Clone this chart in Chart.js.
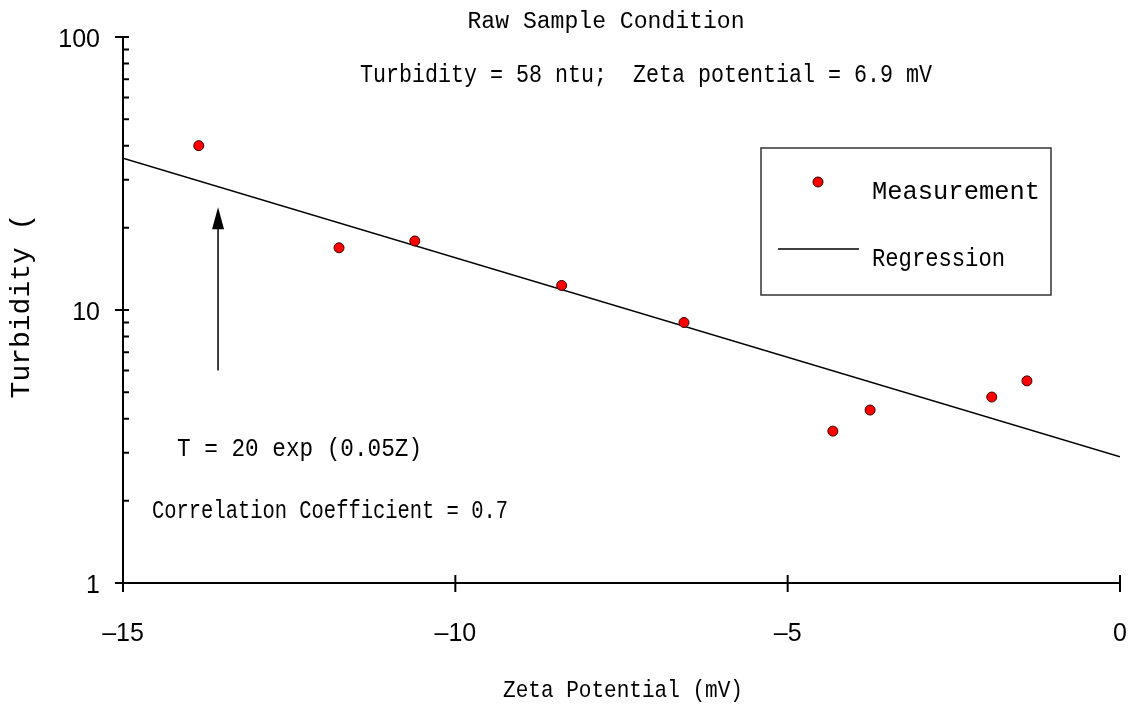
<!DOCTYPE html>
<html>
<head>
<meta charset="utf-8">
<script src="https://cdn.jsdelivr.net/npm/chart.js@4.4.1/dist/chart.umd.min.js"></script>
<style>
  html, body { margin: 0; padding: 0; background: #fff; overflow: hidden; }
  #wrap { position: relative; width: 1133px; height: 704px; }
  #wrap canvas { display: block; }
</style>
</head>
<body>
<div id="wrap"><canvas id="myChart"></canvas></div>
<script>
// measured points (zeta potential mV, turbidity ntu)
const zeta = [-13.86, -11.75, -10.61, -8.40, -6.56, -4.32, -3.76, -1.93, -1.40];
const turbidity = [40, 16.9, 17.9, 12.3, 9.0, 3.6, 4.3, 4.8, 5.5];

// regression line end points
const regZeta = [-15, 0];
const regTurbidity = [36, 2.9];

// axis ticks
const xTicks = [-15, -10, -5, 0];
const yTicks = [1, 10, 100];

// arrow annotation (data coords)
const arrowZeta = -13.57;
const arrowFrom = 6.0;
const arrowTo = 23.8;

const monoFont = '"Liberation Mono", "DejaVu Sans Mono", monospace';

// draw text stretched/squeezed to a given width
function fitText(ctx, text, x, y, w, align) {
    const m = ctx.measureText(text).width;
    const sx = w / m;
    ctx.save();
    let left = x;
    if (align === 'center') left = x - w / 2;
    ctx.translate(left, y);
    ctx.scale(sx, 1);
    ctx.textAlign = 'left';
    ctx.textBaseline = 'middle';
    ctx.fillText(text, 0, 0);
    ctx.restore();
}

const decorPlugin = {
    id: 'decor',
    afterDatasetsDraw(chart) {
        const ctx = chart.ctx;
        const xs = chart.scales.x;
        const ys = chart.scales.y;
        const area = chart.chartArea;

        ctx.save();
        ctx.strokeStyle = '#000';
        ctx.fillStyle = '#000';
        ctx.lineWidth = 2;

        // axis lines
        ctx.beginPath();
        ctx.moveTo(area.left, area.top);
        ctx.lineTo(area.left, area.bottom);
        ctx.moveTo(area.left, area.bottom);
        ctx.lineTo(area.right, area.bottom);
        ctx.stroke();

        // y ticks: majors cross the axis, minors inside
        ctx.beginPath();
        for (let d = 0; d < yTicks.length; d++) {
            const base = yTicks[d];
            const py = ys.getPixelForValue(base);
            ctx.moveTo(area.left - 8, py);
            ctx.lineTo(area.left + 6, py);
            if (d < yTicks.length - 1) {
                for (let k = 2; k <= 9; k++) {
                    const p = ys.getPixelForValue(base * k);
                    ctx.moveTo(area.left, p);
                    ctx.lineTo(area.left + 6, p);
                }
            }
        }
        // x ticks
        xTicks.forEach(v => {
            const px = xs.getPixelForValue(v);
            ctx.moveTo(px, area.bottom - 8);
            ctx.lineTo(px, area.bottom + 9);
        });
        ctx.stroke();

        // arrow
        const ax = xs.getPixelForValue(arrowZeta);
        const a0 = ys.getPixelForValue(arrowFrom);
        const a1 = ys.getPixelForValue(arrowTo);
        ctx.lineWidth = 1.5;
        ctx.beginPath();
        ctx.moveTo(ax, a0);
        ctx.lineTo(ax, a1 + 20);
        ctx.stroke();
        ctx.beginPath();
        ctx.moveTo(ax, a1);
        ctx.lineTo(ax - 6, a1 + 22);
        ctx.lineTo(ax + 6, a1 + 22);
        ctx.closePath();
        ctx.fill();

        // texts
        ctx.font = '23px ' + monoFont;
        fitText(ctx, 'Raw Sample Condition', 606, 22, 277, 'center');
        ctx.font = '25px ' + monoFont;
        fitText(ctx, 'Turbidity = 58 ntu;  Zeta potential = 6.9 mV', 360, 75, 572, 'left');
        fitText(ctx, 'T = 20 exp (0.05Z)', 177, 449, 245, 'left');
        fitText(ctx, 'Correlation Coefficient = 0.7', 152, 511, 356, 'left');
        ctx.font = '24px ' + monoFont;
        fitText(ctx, 'Zeta Potential (mV)', 503, 691, 240, 'left');

        // y axis title
        ctx.save();
        ctx.translate(22, 306);
        ctx.rotate(-Math.PI / 2);
        ctx.font = '28px ' + monoFont;
        ctx.textAlign = 'center';
        ctx.textBaseline = 'middle';
        ctx.fillText('Turbidity (', 0, 0);
        ctx.restore();

        // legend box
        ctx.lineWidth = 1.5;
        ctx.strokeStyle = '#333';
        ctx.strokeRect(761, 148, 290, 147);
        ctx.beginPath();
        ctx.arc(818, 182, 5, 0, Math.PI * 2);
        ctx.fillStyle = '#ff0000';
        ctx.fill();
        ctx.lineWidth = 1;
        ctx.strokeStyle = '#300';
        ctx.stroke();
        ctx.strokeStyle = '#000';
        ctx.lineWidth = 1.5;
        ctx.beginPath();
        ctx.moveTo(778, 249);
        ctx.lineTo(859, 249);
        ctx.stroke();
        ctx.fillStyle = '#000';
        ctx.font = '25px ' + monoFont;
        fitText(ctx, 'Measurement', 872, 192, 168, 'left');
        fitText(ctx, 'Regression', 872, 259, 133, 'left');

        ctx.restore();
    }
};

const ctx = document.getElementById('myChart').getContext('2d');
const myChart = new Chart(ctx, {
    type: 'scatter',
    data: {
        datasets: [{
            label: 'Measurement',
            data: zeta.map((z, i) => ({ x: z, y: turbidity[i] })),
            backgroundColor: '#ff0000',
            borderColor: '#300',
            borderWidth: 1,
            pointRadius: 5,
            order: 1
        }, {
            label: 'Regression',
            type: 'line',
            data: regZeta.map((z, i) => ({ x: z, y: regTurbidity[i] })),
            borderColor: '#000',
            borderWidth: 1.5,
            pointRadius: 0,
            fill: false,
            order: 2
        }]
    },
    options: {
        responsive: true,
        maintainAspectRatio: false,
        animation: false,
        layout: { padding: { top: 37, right: 13, left: 0, bottom: 0 } },
        plugins: {
            legend: { display: false },
            title: { display: false },
            tooltip: { enabled: false }
        },
        scales: {
            x: {
                type: 'linear',
                min: -15,
                max: 0,
                afterBuildTicks: scale => { scale.ticks = xTicks.map(v => ({ value: v })); },
                afterFit: scale => { scale.height = 121; },
                // tick marks are drawn by the plugin; tickLength only spaces the labels
                grid: { display: false, drawTicks: true, tickLength: 36 },
                border: { display: false },
                ticks: {
                    padding: 0,
                    color: '#000',
                    font: { family: '"Liberation Sans", Arial, sans-serif', size: 25 },
                    callback: v => v < 0 ? '\u2013' + Math.abs(v) : String(v)
                }
            },
            y: {
                type: 'logarithmic',
                min: 1,
                max: 100,
                afterBuildTicks: scale => { scale.ticks = yTicks.map(v => ({ value: v })); },
                afterFit: scale => { scale.width = 123; },
                grid: { display: false, drawTicks: true, tickLength: 23 },
                border: { display: false },
                ticks: {
                    padding: 0,
                    labelOffset: 3,
                    color: '#000',
                    font: { family: '"Liberation Sans", Arial, sans-serif', size: 25 },
                    callback: v => String(v)
                }
            }
        }
    },
    plugins: [decorPlugin]
});
</script>
</body>
</html>
